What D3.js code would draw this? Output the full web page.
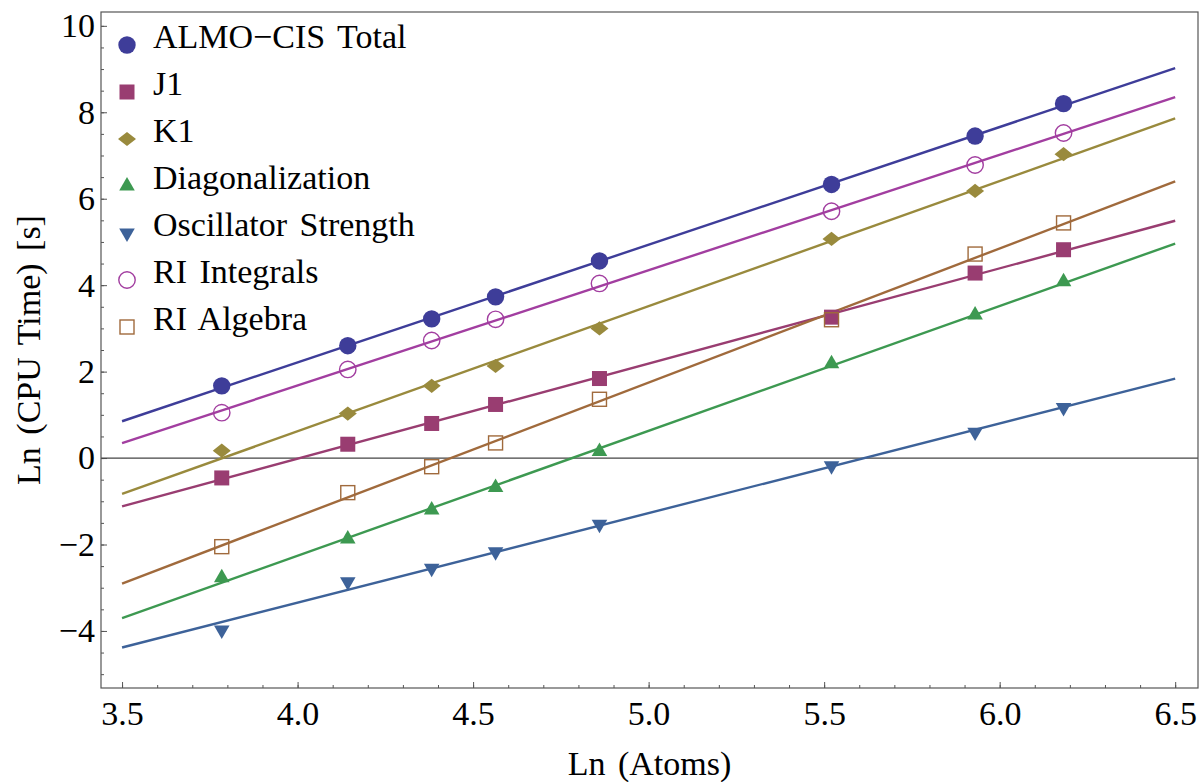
<!DOCTYPE html>
<html>
  <meta charset="utf-8" />
  <style>
    body {
      margin: 0;
      background: #fff;
    }
    text {
      font-family: "Liberation Serif", "Times New Roman", serif;
      fill: #000;
    }
    .frame {
      fill: none;
      stroke: #555;
      stroke-width: 1.2;
    }
    .tick line {
      stroke: #555;
    }
    .fit {
      fill: none;
      stroke-width: 2.4;
    }
  </style>

  <body>
    <script src="https://d3js.org/d3.v7.min.js"></script>

    <script>
      let width = 1200,
        height = 782;

      // plot box
      let plotLeft = 101,
        plotRight = 1198,
        plotTop = 12,
        plotBottom = 688;

      // ln(number of atoms) for each system
      let lnAtoms = [3.784, 4.143, 4.382, 4.564, 4.86, 5.521, 5.93, 6.182];

      // ln(CPU time) for each timing component
      let almoTotal = [1.67, 2.6, 3.22, 3.73, 4.56, 6.33, 7.45, 8.2];
      let j1 = [-0.46, 0.32, 0.8, 1.24, 1.84, 3.26, 4.28, 4.82];
      let k1 = [0.17, 1.03, 1.67, 2.13, 3.0, 5.07, 6.18, 7.03];
      let diagonalization = [-2.77, -1.87, -1.2, -0.68, 0.15, 2.18, 3.31, 4.08];
      let oscStrength = [-3.98, -2.86, -2.55, -2.17, -1.53, -0.18, 0.6, 1.17];
      let riIntegrals = [1.05, 2.05, 2.72, 3.21, 4.04, 5.71, 6.78, 7.52];
      let riAlgebra = [-2.05, -0.8, -0.2, 0.35, 1.36, 3.2, 4.72, 5.44];

      let seriesNames = [
        "ALMO\u2212CIS Total",
        "J1",
        "K1",
        "Diagonalization",
        "Oscillator Strength",
        "RI Integrals",
        "RI Algebra",
      ];
      let seriesValues = [
        almoTotal,
        j1,
        k1,
        diagonalization,
        oscStrength,
        riIntegrals,
        riAlgebra,
      ];
      let seriesColors = [
        "#3e3d99",
        "#993d71",
        "#998a3d",
        "#3d9951",
        "#3d6299",
        "#a23ea0",
        "#a06a3c",
      ];
      let seriesMarkers = [
        "circle",
        "square",
        "diamond",
        "triangle",
        "triangleDown",
        "openCircle",
        "openSquare",
      ];

      // fitted lines are drawn over this x range
      let fitRange = [3.5, 6.5];

      let xTicks = [3.5, 4.0, 4.5, 5.0, 5.5, 6.0, 6.5];
      let yTicks = [-4, -2, 0, 2, 4, 6, 8, 10];

      let x = d3.scaleLinear().domain([3.44, 6.565]).range([plotLeft, plotRight]);
      let y = d3.scaleLinear().domain([-5.32, 10.32]).range([plotBottom, plotTop]);

      let svg = d3
        .select("body")
        .append("svg")
        .attr("width", width)
        .attr("height", height);

      // axes: ticks point inward, minor ticks without labels
      let xMinor = d3.range(35, 66).map((d) => d / 10);
      let yMinor = d3.range(-10, 21).map((d) => d / 2);

      svg
        .append("g")
        .attr("transform", `translate(0,${plotBottom})`)
        .call(d3.axisBottom(x).tickValues(xMinor).tickSize(-3).tickFormat(""))
        .call((g) => g.select(".domain").remove());

      svg
        .append("g")
        .attr("transform", `translate(${plotLeft},0)`)
        .call(d3.axisLeft(y).tickValues(yMinor).tickSize(-3).tickFormat(""))
        .call((g) => g.select(".domain").remove());

      let xAxis = svg
        .append("g")
        .attr("transform", `translate(0,${plotBottom})`)
        .call(
          d3
            .axisBottom(x)
            .tickValues(xTicks)
            .tickSize(-6)
            .tickPadding(13)
            .tickFormat(d3.format(".1f"))
        );
      xAxis.select(".domain").remove();
      xAxis
        .selectAll("text")
        .attr("font-size", 34)
        .attr("dy", "0.71em")
        .attr("y", 13);

      let yAxis = svg
        .append("g")
        .attr("transform", `translate(${plotLeft},0)`)
        .call(
          d3
            .axisLeft(y)
            .tickValues(yTicks)
            .tickSize(-6)
            .tickPadding(7)
            .tickFormat((d) => (d < 0 ? "\u2212" + Math.abs(d) : d))
        );
      yAxis.select(".domain").remove();
      yAxis.selectAll("text").attr("font-size", 34).attr("x", -6);

      // zero line
      svg
        .append("line")
        .attr("x1", plotLeft)
        .attr("x2", plotRight)
        .attr("y1", y(0))
        .attr("y2", y(0))
        .attr("stroke", "#444")
        .attr("stroke-width", 1.2);

      svg
        .append("rect")
        .attr("class", "frame")
        .attr("x", plotLeft)
        .attr("y", plotTop)
        .attr("width", plotRight - plotLeft)
        .attr("height", plotBottom - plotTop);

      // least squares fit in log-log space
      function fitLine(xs, ys) {
        let mx = d3.mean(xs),
          my = d3.mean(ys);
        let sxy = d3.sum(xs, (d, i) => (d - mx) * (ys[i] - my));
        let sxx = d3.sum(xs, (d) => (d - mx) * (d - mx));
        let slope = sxy / sxx;
        return (v) => my + slope * (v - mx);
      }

      let plot = svg.append("g");

      seriesValues.forEach(function (vals, i) {
        let f = fitLine(lnAtoms, vals);
        plot
          .append("line")
          .attr("class", "fit")
          .attr("stroke", seriesColors[i])
          .attr("x1", x(fitRange[0]))
          .attr("y1", y(f(fitRange[0])))
          .attr("x2", x(fitRange[1]))
          .attr("y2", y(f(fitRange[1])));
      });

      function drawMarker(g, kind, color) {
        if (kind == "circle") {
          g.append("circle").attr("r", 8.7).attr("fill", color);
        } else if (kind == "openCircle") {
          g.append("circle")
            .attr("r", 8.2)
            .attr("fill", "none")
            .attr("stroke", color)
            .attr("stroke-width", 1.4);
        } else if (kind == "square") {
          g.append("rect")
            .attr("x", -7.5)
            .attr("y", -7.5)
            .attr("width", 15)
            .attr("height", 15)
            .attr("fill", color);
        } else if (kind == "openSquare") {
          g.append("rect")
            .attr("x", -7)
            .attr("y", -7)
            .attr("width", 14)
            .attr("height", 14)
            .attr("fill", "none")
            .attr("stroke", color)
            .attr("stroke-width", 1.4);
        } else if (kind == "diamond") {
          g.append("path")
            .attr("d", d3.symbol(d3.symbolSquare, 130)())
            .attr("transform", "scale(1.12,0.88) rotate(45)")
            .attr("fill", color);
        } else if (kind == "triangle") {
          g.append("path")
            .attr("d", d3.symbol(d3.symbolTriangle, 105)())
            .attr("fill", color);
        } else if (kind == "triangleDown") {
          g.append("path")
            .attr("d", d3.symbol(d3.symbolTriangle, 105)())
            .attr("transform", "rotate(180)")
            .attr("fill", color);
        }
      }

      seriesValues.forEach(function (vals, i) {
        vals.forEach(function (v, j) {
          let g = plot
            .append("g")
            .attr("transform", `translate(${x(lnAtoms[j])},${y(v)})`);
          drawMarker(g, seriesMarkers[i], seriesColors[i]);
        });
      });

      // legend
      let legend = svg.append("g").attr("transform", "translate(127,45)");
      seriesNames.forEach(function (name, i) {
        let row = legend.append("g").attr("transform", `translate(0,${i * 47})`);
        drawMarker(row, seriesMarkers[i], seriesColors[i]);
        row
          .append("text")
          .attr("x", 26)
          .attr("y", 3)
          .attr("font-size", 34)
          .attr("word-spacing", 4)
          .text(name);
      });

      // axis titles
      svg
        .append("text")
        .attr("x", (plotLeft + plotRight) / 2)
        .attr("y", 775)
        .attr("text-anchor", "middle")
        .attr("font-size", 34)
        .attr("word-spacing", 4)
        .text("Ln (Atoms)");

      svg
        .append("text")
        .attr("transform", `translate(40,${(plotTop + plotBottom) / 2}) rotate(-90)`)
        .attr("text-anchor", "middle")
        .attr("font-size", 34)
        .attr("word-spacing", 4)
        .text("Ln (CPU Time) [s]");
    </script>
  </body>
</html>
